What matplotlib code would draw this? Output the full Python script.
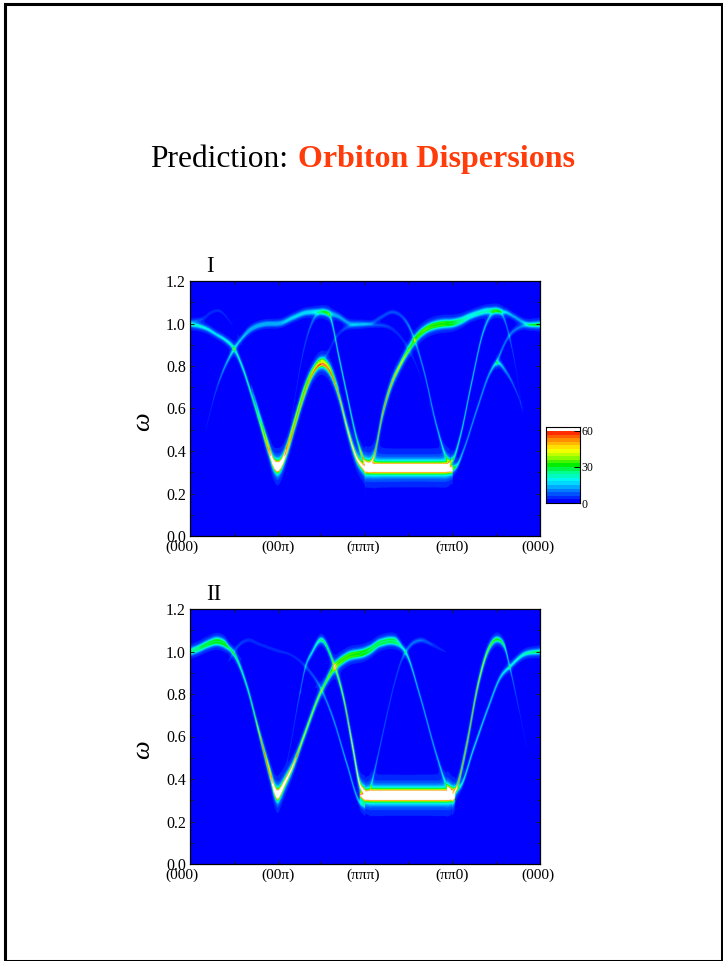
import numpy as np
import matplotlib
matplotlib.use('Agg')
import matplotlib.pyplot as plt
from matplotlib.colors import ListedColormap, BoundaryNorm, LinearSegmentedColormap
from matplotlib.patches import Rectangle
from matplotlib.transforms import ScaledTranslation
from matplotlib.ticker import MultipleLocator

plt.rcParams['font.family'] = ['Liberation Serif', 'DejaVu Serif']

# ---- tick labels ----
path_labels = ['(000)', '(00π)', '(πππ)', '(ππ0)', '(000)']
path_ticks = [0, 1, 2, 3, 4]

# ---- panel I branches: momentum, energy, peak intensity ----
Ia_x = [0, .1, .2, .3, .4, .5, .6, .7, .8, .9, .95, 1, 1.05, 1.1, 1.2, 1.3, 1.4, 1.5, 1.6, 1.7, 1.8, 1.9, 2]
Ia_w = [.992, .985, .97, .945, .92, .88, .79, .665, .53, .395, .335, .313, .335, .385, .52, .655, .76, .805, .77, .66, .50, .37, .312]
Ia_a = [22, 22, 20, 18, 20, 24, 26, 30, 38, 55, 75, 90, 75, 60, 50, 50, 50, 55, 55, 60, 70, 85, 100]
Ib_x = [.7, .8, .9, .95, 1, 1.05, 1.1, 1.2, 1.3, 1.4, 1.5, 1.6, 1.7]
Ib_w = [.70, .56, .42, .355, .336, .355, .41, .55, .685, .78, .825, .79, .69]
Ib_a = [6, 20, 45, 70, 90, 70, 50, 40, 35, 25, 25, 25, 6]
Ic_x = [2, 2.08, 2.95, 3.0]
Ic_w = [.312, .312, .312, .312]
Ic_a = [100, 100, 100, 100]
Id_x = [2.0, 2.06, 2.1, 2.5, 2.92, 2.97]
Id_w = [.335, .328, .326, .326, .326, .335]
Id_a = [70, 70, 90, 90, 90, 50]
Ie_x = [2, 2.05, 2.1, 2.2, 2.3, 2.4, 2.5, 2.6, 2.7, 2.8, 2.9, 3, 3.1, 3.2, 3.3, 3.4, 3.5, 3.6, 3.7, 3.8, 3.9, 4]
Ie_w = [.34, .335, .37, .57, .71, .80, .87, .928, .963, .98, .987, .99, 1.003, 1.024, 1.04, 1.05, 1.052, 1.05, 1.03, 1.005, .99, .99]
Ie_a = [50, 50, 55, 60, 55, 48, 34, 26, 26, 26, 26, 24, 20, 16, 16, 16, 16, 18, 14, 14, 16, 18]
In_x = [2.4, 2.5, 2.6, 2.7, 2.8, 2.9, 3, 3.1, 3.2, 3.3, 3.4, 3.5, 3.58]
In_w = [.805, .888, .944, .978, .996, 1.003, 1.006, 1.018, 1.038, 1.052, 1.062, 1.062, 1.058]
In_a = [1, 14, 26, 26, 26, 26, 24, 18, 14, 14, 14, 14, 3]
If_x = [1.5, 1.55, 1.6, 1.7, 1.79, 1.91, 1.985, 2.0]
If_w = [1.055, 1.05, 1.03, .844, .67, .45, .355, .34]
If_a = [10, 16, 24, 26, 26, 30, 55, 70]
Ig_x = [1.15, 1.18, 1.3, 1.41, 1.5]
Ig_w = [.52, .60, .875, 1.015, 1.055]
Ig_a = [1, 4, 8, 10, 8]
Ih_x = [.15, .3, .5, .65, .84, 1.03, 1.18, 1.34, 1.5, 1.68, 1.85, 2.06, 2.18, 2.32, 2.42, 2.5, 2.67, 2.82, 2.94, 2.98]
Ih_w = [.45, .687, .875, .95, .988, .993, 1.02, 1.044, 1.046, 1.028, .99, .996, 1.025, 1.05, 1.03, .985, .78, .515, .36, .34]
Ih_a = [2, 8, 20, 11, 10, 10, 11, 12, 13, 9, 7, 7, 7, 7, 7, 12, 14, 16, 25, 25]
Io_x = [.58, .65, .84, 1.03, 1.18, 1.34, 1.5, 1.68, 1.85, 2.0]
Io_w = [.925, .96, .998, 1.003, 1.03, 1.054, 1.056, 1.038, 1.0, 1.0]
Io_a = [1, 8, 9, 9, 10, 10, 11, 8, 6, 1]
Ii_x = [0, .15, .25, .34, .43, .5, .6, .68]
Ii_w = [1.0, 1.02, 1.05, 1.055, 1.02, .977, .89, .80]
Ii_a = [6, 5, 4.5, 4.5, 3.5, 2.5, 1.5, .5]
Ij_x = [1.5, 1.55, 1.68, 1.85, 2.0, 2.1, 2.27, 2.5, 2.74, 2.82]
Ij_w = [.82, .844, .938, .988, .995, .99, .98, .875, .62, .50]
Ij_a = [4, 5, 5, 7, 9, 7, 6, 4, 2, .5]
Ik_x = [2.98, 3.02, 3.09, 3.22, 3.35, 3.43, 3.5, 3.58, 3.66, 3.74, 3.83, 3.87]
Ik_w = [.345, .37, .467, .72, .954, 1.03, 1.056, 1.03, .92, .75, .48, .42]
Ik_a = [40, 28, 24, 22, 18, 14, 10, 12, 10, 5, 2, .5]
Il_x = [3, 3.06, 3.13, 3.28, 3.43, 3.5, 3.62, 3.78, 3.86]
Il_w = [.312, .335, .405, .593, .766, .81, .766, .624, .52]
Il_a = [40, 22, 14, 14, 15, 22, 12, 5, .5]
Im_x = [3.5, 3.62, 3.81, 4.0]
Im_w = [.81, .92, .985, .993]
Im_a = [14, 10, 10, 18]

# ---- panel II branches ----
IIa_x = [0, .1, .2, .32, .4, .5, .65, .78, .916, .96, 1, 1.04, 1.08, 1.18, 1.3, 1.49, 1.64, 1.79, 2, 2.06, 2.17, 2.35, 2.48, 2.63, 2.82, 2.94, 2.98]
IIa_w = [.992, 1.008, 1.028, 1.04, 1.028, .99, .836, .632, .413, .345, .318, .34, .375, .465, .60, .805, .912, .965, .988, 1.0, 1.032, 1.04, .985, .79, .51, .365, .34]
IIa_a = [18, 20, 22, 24, 24, 30, 28, 40, 55, 75, 90, 80, 75, 60, 45, 40, 30, 28, 26, 24, 22, 22, 22, 16, 15, 22, 25]
IIj_x = [0, .1, .2, .32, .4, .45, 1.55, 1.64, 1.79, 2, 2.06, 2.17, 2.35, 2.42]
IIj_w = [1.006, 1.022, 1.042, 1.056, 1.042, 1.02, .87, .93, .982, 1.006, 1.018, 1.048, 1.056, 1.03]
IIj_a = [18, 20, 22, 24, 22, 2, 2, 28, 28, 26, 24, 22, 22, 2]
IIb_x = [.75, .85, .92, .96, 1, 1.04, 1.08, 1.18, 1.25]
IIb_w = [.68, .53, .43, .365, .336, .355, .39, .472, .55]
IIb_a = [2, 25, 40, 65, 90, 65, 40, 15, 1]
IIc_x = [1.0, 1.1, 1.24, 1.32, 1.39, 1.5, 1.64, 1.75, 1.86, 1.94, 2]
IIc_w = [.40, .47, .77, .93, .993, 1.055, .945, .79, .55, .375, .335]
IIc_a = [.5, 3, 10, 16, 20, 28, 35, 45, 75, 85, 85]
IId_x = [.44, .53, .65, .8, 1, 1.15, 1.34, 1.49, 1.64, 1.79, 1.94, 2]
IId_w = [.955, 1.017, 1.053, 1.033, 1.004, .985, .92, .83, .68, .475, .29, .275]
IId_a = [3, 6, 6, 5, 5, 4, 6, 10, 14, 16, 16, 15]
IIe_x = [1.94, 2, 2.06, 2.94, 3.0, 3.03]
IIe_w = [.325, .313, .313, .313, .313, .32]
IIe_a = [50, 100, 100, 100, 100, 70]
IIf_x = [2, 2.06, 2.94, 3.0]
IIf_w = [.335, .332, .332, .335]
IIf_a = [60, 110, 110, 50]
IIg_x = [2.06, 2.1, 2.17, 2.25, 2.33, 2.41, 2.5, 2.63, 2.78, 2.92, 3.09, 3.24, 3.36]
IIg_w = [.35, .42, .55, .70, .84, .95, 1.02, 1.053, 1.03, 1.0, .99, .95, .90]
IIg_a = [25, 14, 10, 9, 8, 8, 10, 10, 6, 3, 2, 1.5, .5]
IIh_x = [3, 3.05, 3.17, 3.28, 3.4, 3.49, 3.59, 3.66, 3.78, 3.89, 3.93]
IIh_w = [.312, .36, .575, .82, 1.0, 1.055, 1.03, .92, .69, .47, .40]
IIh_a = [70, 55, 60, 55, 40, 34, 30, 14, 5, 2, .5]
IIi_x = [2.94, 3.0, 3.09, 3.24, 3.4, 3.55, 3.66, 3.81, 4]
IIi_w = [.36, .35, .365, .54, .726, .88, .93, .985, 1.0]
IIi_a = [30, 30, 22, 20, 18, 18, 20, 24, 30]

branches_I = [(Ia_x, Ia_w, Ia_a), (Ib_x, Ib_w, Ib_a), (Ic_x, Ic_w, Ic_a), (Id_x, Id_w, Id_a),
              (Ie_x, Ie_w, Ie_a), (In_x, In_w, In_a), (If_x, If_w, If_a), (Ig_x, Ig_w, Ig_a),
              (Ih_x, Ih_w, Ih_a), (Io_x, Io_w, Io_a), (Ii_x, Ii_w, Ii_a), (Ij_x, Ij_w, Ij_a),
              (Ik_x, Ik_w, Ik_a), (Il_x, Il_w, Il_a), (Im_x, Im_w, Im_a)]
branches_II = [(IIa_x, IIa_w, IIa_a), (IIj_x, IIj_w, IIj_a), (IIb_x, IIb_w, IIb_a), (IIc_x, IIc_w, IIc_a),
               (IId_x, IId_w, IId_a), (IIe_x, IIe_w, IIe_a), (IIf_x, IIf_w, IIf_a), (IIg_x, IIg_w, IIg_a),
               (IIh_x, IIh_w, IIh_a), (IIi_x, IIi_w, IIi_a)]

# ---- colour scale ----
level_step = 3
level_max = 60
scale_top = 63.3
anchors = [(0, '#0000ff'), (8, '#0070ff'), (17, '#00f5ff'), (24, '#00ff90'), (30, '#00ee00'),
           (37, '#a0ff00'), (43, '#ffff00'), (51, '#ff9000'), (60, '#ff0000')]
base = LinearSegmentedColormap.from_list('orb', [(v / 60, c) for v, c in anchors])
levels = np.arange(0, level_max + level_step, level_step)
band_colors = [base(l / 60) for l in levels[:-1]] + ['#ffffff']
cmap = ListedColormap(band_colors)
norm = BoundaryNorm(list(levels) + [1e5], cmap.N)

# ---- spectral map from branches ----
GAMMA = 0.0115
qx = np.linspace(0, 4, 1401)
qw = np.linspace(0, 1.2, 1021)


def hermite(q, xk, yk):
    """Smooth curve through the read knots (cubic Hermite, monotone-limited tangents)."""
    xk, yk = np.asarray(xk, float), np.asarray(yk, float)
    if xk.size < 3:
        return np.interp(q, xk, yk)
    h = np.diff(xk)
    s = np.diff(yk) / h
    m = np.zeros_like(yk)
    m[1:-1] = (s[:-1] * h[1:] + s[1:] * h[:-1]) / (h[:-1] + h[1:])
    m[0], m[-1] = s[0], s[-1]
    for i in range(1, xk.size - 1):
        lim = 3 * min(abs(s[i - 1]), abs(s[i]))
        m[i] = np.sign(m[i]) * min(abs(m[i]), lim)
    i = np.clip(np.searchsorted(xk, q, side='right') - 1, 0, xk.size - 2)
    t = (q - xk[i]) / h[i]
    return ((2 * t**3 - 3 * t**2 + 1) * yk[i] + (t**3 - 2 * t**2 + t) * h[i] * m[i]
            + (-2 * t**3 + 3 * t**2) * yk[i + 1] + (t**3 - t**2) * h[i] * m[i + 1])


def spectrum(branches):
    Z = np.zeros((qw.size, qx.size))
    for bx, bw, ba in branches:
        mask = (qx >= bx[0]) & (qx <= bx[-1])
        q = qx[mask]
        w = hermite(q, bx, bw)
        a = np.interp(q, bx, ba)
        d = qw[:, None] - w[None, :]
        g = GAMMA * (0.72 + 0.28 * np.sqrt(np.minimum(a, 100) / 100))[None, :]
        Z[:, mask] += a[None, :] / (1 + (d / g) ** 2)
    return Z


fig = plt.figure(figsize=(7.23, 9.61), dpi=100)
W, H = 723.0, 961.0


def axes_px(x0, y0, x1, y1):
    return fig.add_axes([x0 / W, 1 - y1 / H, (x1 - x0) / W, (y1 - y0) / H])


# outer page frame
fig.add_artist(Rectangle((5 / W, 1 - 961 / H), 717 / W, 957 / H, transform=fig.transFigure,
                         fill=False, ec='black', lw=2.2))

# title
fig.text(150 / W, 1 - 167 / H, 'Prediction:', fontsize=22.6, color='black', ha='left', va='baseline')
fig.text(298 / W, 1 - 167 / H, 'Orbiton Dispersions', fontsize=23.0, fontweight='bold',
         color='#ff3c0a', ha='left', va='baseline')

panel_boxes = [(190, 281, 540, 536), (190, 609, 540, 864)]
panel_names = ['I', 'II']
label_shift = [-8, 0, -2, 0, -2]
for box, name, br in zip(panel_boxes, panel_names, [branches_I, branches_II]):
    ax = axes_px(*box)
    ax.imshow(spectrum(br), origin='lower', extent=(0, 4, 0, 1.2), aspect='auto', cmap=cmap,
              norm=norm, interpolation='antialiased')
    ax.set_xlim(0, 4)
    ax.set_ylim(0, 1.2)
    ax.xaxis.set_minor_locator(MultipleLocator(0.5))
    ax.yaxis.set_minor_locator(MultipleLocator(0.1))
    ax.tick_params(which='both', direction='in', top=True, right=True, width=0.7, color='#222222')
    ax.tick_params(which='major', length=3)
    ax.tick_params(which='minor', length=2.5)
    ax.tick_params(axis='y', which='major', pad=3, labelsize=11.5)
    ax.tick_params(axis='x', which='major', pad=3, labelsize=11)
    ax.set_xticks(path_ticks)
    ax.set_xticklabels(path_labels)
    ax.set_yticks(np.arange(0, 1.21, 0.2))
    ax.set_yticklabels([f'{v:.1f}' for v in np.arange(0, 1.21, 0.2)])
    for lab, dx in zip(ax.get_xticklabels(), label_shift):
        lab.set_transform(lab.get_transform() + ScaledTranslation(dx / 100, 0, fig.dpi_scale_trans))
    for s in ax.spines.values():
        s.set_linewidth(0.9)
    fig.text(206 / W, 1 - (box[1] - 9) / H, name, fontsize=16.5, ha='left', va='baseline')
    fig.text(143 / W, 1 - (box[1] + 141) / H, 'ω', fontsize=19, style='italic', rotation=90,
             ha='center', va='center')

# colour bar
cax = axes_px(546, 427, 579.5, 503)
vals = np.arange(0, scale_top, 0.1)[:, None]
cax.imshow(vals, origin='lower', extent=(0, 1, 0, scale_top), aspect='auto', cmap=cmap, norm=norm,
           interpolation='nearest')
cax.set_xticks([])
cax.yaxis.tick_right()
cax.set_yticks([0, 30, 60])
cax.tick_params(axis='y', direction='in', length=4, width=0.7, labelsize=8.5, pad=1.5)
for s in cax.spines.values():
    s.set_linewidth(0.8)

fig.savefig('out.png', dpi=100)
